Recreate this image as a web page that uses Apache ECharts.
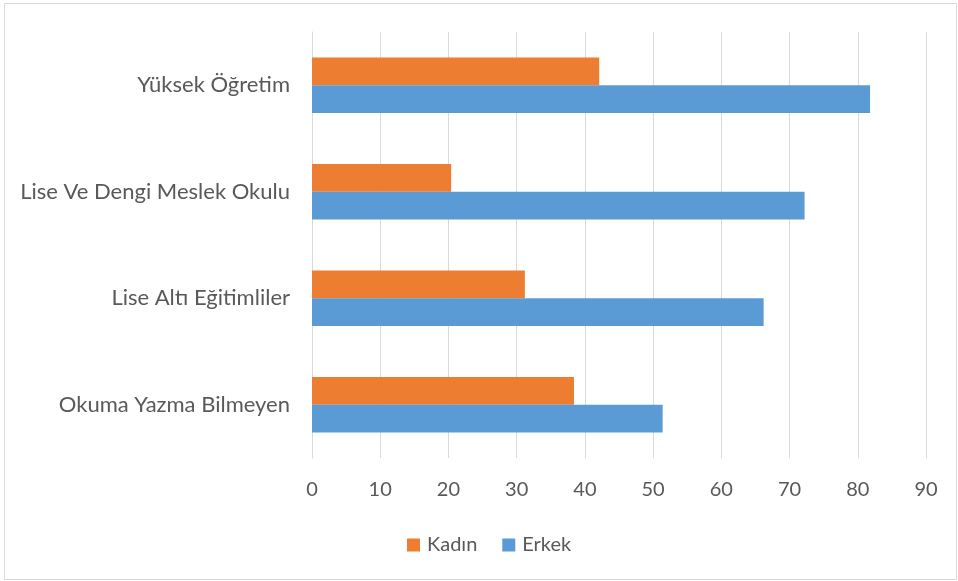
<!DOCTYPE html>
<html>
<head>
<meta charset="utf-8">
<script src="https://cdn.jsdelivr.net/npm/echarts@6/dist/echarts.min.js"></script>
<style>
  html, body { margin: 0; padding: 0; background: #fff; }
  #chart { width: 958px; height: 581px; }
</style>
</head>
<body>
<div id="chart"></div>
<script>
// kategoriler (alttan üste)
const categories = ['Okuma Yazma Bilmeyen', 'Lise Altı Eğitimliler', 'Lise Ve Dengi Meslek Okulu', 'Yüksek Öğretim']
const kadin = [38.4, 31.2, 20.4, 42.1]
const erkek = [51.4, 66.2, 72.2, 81.8]
const xTicks = [0, 90, 10] // min, max, interval

const textColor = '#595959'
const gridColor = '#d9d9d9'
const font = 'Lato, "Open Sans", sans-serif'

const myChart = echarts.init(document.getElementById('chart'))

const option = {
  animation: false,
  color: ['#ED7D31', '#5B9BD5'],
  graphic: [{
    type: 'rect',
    shape: { x: 4.5, y: 3.5, width: 952, height: 576 },
    style: { fill: 'none', stroke: gridColor, lineWidth: 1 },
    silent: true,
  }],
  legend: {
    data: ['Kadın', 'Erkek'],
    left: 402,
    top: 530,
    icon: 'rect',
    itemWidth: 13,
    itemHeight: 13,
    itemGap: 25,
    textStyle: { color: textColor, fontSize: 20, fontFamily: font, padding: [0, 0, 0, 2] },
  },
  grid: {
    left: 312,
    right: 32,
    top: 32,
    bottom: 123,
    containLabel: false,
  },
  xAxis: {
    type: 'value',
    min: xTicks[0],
    max: xTicks[1],
    interval: xTicks[2],
    axisLine: { show: false },
    axisTick: { show: false },
    splitLine: { lineStyle: { color: gridColor, width: 1 } },
    axisLabel: { color: textColor, fontSize: 20, fontFamily: font, margin: 22 },
  },
  yAxis: {
    type: 'category',
    data: categories,
    axisLine: { lineStyle: { color: gridColor, width: 1 } },
    axisTick: { show: false },
    axisLabel: { color: textColor, fontSize: 22, fontFamily: font, margin: 22 },
  },
  series: [
    {
      name: 'Kadın',
      type: 'bar',
      data: kadin,
      barGap: '0%',
      barCategoryGap: '48%',
    },
    {
      name: 'Erkek',
      type: 'bar',
      data: erkek,
    },
  ],
}

myChart.setOption(option)
</script>
</body>
</html>
